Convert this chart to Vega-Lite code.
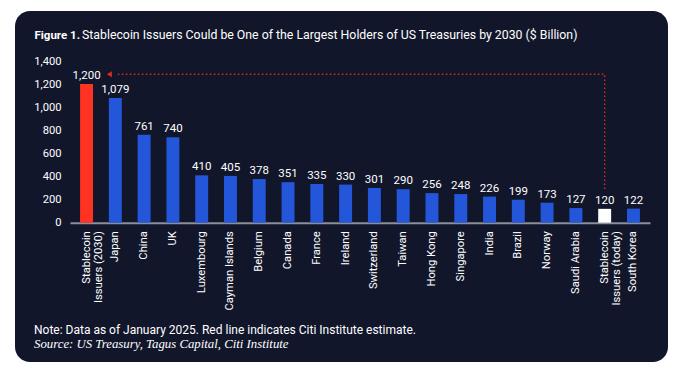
{
  "$schema": "https://vega.github.io/schema/vega-lite/v6.json",
  "width": 653,
  "height": 351,
  "autosize": {"type": "none"},
  "padding": {"left": 15, "top": 11, "right": 12, "bottom": 13},
  "background": "white",
  "config": {
    "view": {"fill": "#12162b", "cornerRadius": 15, "stroke": null},
    "font": "Roboto"
  },
  "title": {
    "text": "Note: Data as of January 2025. Red line indicates Citi Institute estimate.",
    "subtitle": "Source: US Treasury, Tagus Capital, Citi Institute",
    "orient": "bottom",
    "anchor": "start",
    "frame": "group",
    "offset": -37,
    "dx": 19,
    "font": "Roboto",
    "fontSize": 12,
    "fontWeight": "normal",
    "color": "white",
    "subtitleFont": "Liberation Serif",
    "subtitleFontStyle": "italic",
    "subtitleFontSize": 12.8,
    "subtitleColor": "white",
    "subtitlePadding": 1
  },
  "datasets": {
    "holders": [
      {"name": "Stablecoin Issuers (2030)", "value": 1200, "kind": "estimate"},
      {"name": "Japan", "value": 1079, "kind": "holder"},
      {"name": "China", "value": 761, "kind": "holder"},
      {"name": "UK", "value": 740, "kind": "holder"},
      {"name": "Luxembourg", "value": 410, "kind": "holder"},
      {"name": "Cayman Islands", "value": 405, "kind": "holder"},
      {"name": "Belgium", "value": 378, "kind": "holder"},
      {"name": "Canada", "value": 351, "kind": "holder"},
      {"name": "France", "value": 335, "kind": "holder"},
      {"name": "Ireland", "value": 330, "kind": "holder"},
      {"name": "Switzerland", "value": 301, "kind": "holder"},
      {"name": "Taiwan", "value": 290, "kind": "holder"},
      {"name": "Hong Kong", "value": 256, "kind": "holder"},
      {"name": "Singapore", "value": 248, "kind": "holder"},
      {"name": "India", "value": 226, "kind": "holder"},
      {"name": "Brazil", "value": 199, "kind": "holder"},
      {"name": "Norway", "value": 173, "kind": "holder"},
      {"name": "Saudi Arabia", "value": 127, "kind": "holder"},
      {"name": "Stablecoin Issuers (today)", "value": 120, "kind": "today"},
      {"name": "South Korea", "value": 122, "kind": "holder"}
    ],
    "arrow": [
      {"name": "Stablecoin Issuers (today)", "value": 292, "step": 1},
      {"name": "Stablecoin Issuers (today)", "value": 1285, "step": 2},
      {"name": "Japan", "value": 1285, "step": 3}
    ],
    "tip": [
      {"name": "Japan", "value": 1285}
    ]
  },
  "encoding": {
    "x": {
      "field": "name",
      "type": "nominal",
      "scale": {
        "domain": ["Stablecoin Issuers (2030)", "Japan", "China", "UK", "Luxembourg", "Cayman Islands", "Belgium", "Canada", "France", "Ireland", "Switzerland", "Taiwan", "Hong Kong", "Singapore", "India", "Brazil", "Norway", "Saudi Arabia", "Stablecoin Issuers (today)", "South Korea"],
        "range": [55, 635],
        "paddingInner": 0.55,
        "paddingOuter": 0.35
      },
      "axis": {
        "orient": "bottom",
        "offset": -139.3,
        "domainColor": "#8b8f9b",
        "domainWidth": 2,
        "ticks": false,
        "grid": false,
        "labelAngle": -90,
        "labelAlign": "right",
        "labelBaseline": "middle",
        "labelPadding": 8,
        "labelColor": "white",
        "labelFont": "Roboto",
        "labelFontSize": 11.2,
        "labelLineHeight": 12,
        "labelExpr": "indexof(datum.value, 'Stablecoin') == 0 ? ['Stablecoin', slice(datum.value, 11)] : datum.value",
        "title": "Figure 1.",
        "titleX": 19,
        "titleY": -184.7,
        "titleAngle": 0,
        "titleAlign": "left",
        "titleBaseline": "alphabetic",
        "titleAnchor": null,
        "titleColor": "white",
        "titleFont": "Roboto",
        "titleFontSize": 11.5,
        "titleFontWeight": "bold"
      }
    },
    "y": {
      "field": "value",
      "type": "quantitative",
      "scale": {"domain": [0, 1400], "range": [211.7, 50], "nice": false},
      "axis": {
        "orient": "left",
        "offset": -48,
        "values": [0, 200, 400, 600, 800, 1000, 1200, 1400],
        "labelExpr": "format(datum.value, ',.0f')",
        "domain": false,
        "ticks": false,
        "grid": false,
        "labelPadding": 2,
        "labelColor": "white",
        "labelFont": "Roboto",
        "labelFontSize": 11.2,
        "title": "Stablecoin Issuers Could be One of the Largest Holders of US Treasuries by 2030 ($ Billion)",
        "titleX": 18.5,
        "titleY": 27,
        "titleAngle": 0,
        "titleAlign": "left",
        "titleBaseline": "alphabetic",
        "titleColor": "white",
        "titleFont": "Roboto",
        "titleFontSize": 12.3,
        "titleFontWeight": "normal"
      }
    }
  },
  "layer": [
    {
      "data": {"name": "holders"},
      "mark": {"type": "bar"},
      "encoding": {
        "color": {
          "field": "kind",
          "type": "nominal",
          "scale": {"domain": ["estimate", "holder", "today"], "range": ["#ff3322", "#2456da", "#ffffff"]},
          "legend": null
        }
      }
    },
    {
      "data": {"name": "holders"},
      "mark": {"type": "text", "baseline": "bottom", "dy": -3, "color": "white", "font": "Roboto", "fontSize": 11.5},
      "encoding": {
        "text": {"field": "value", "type": "quantitative", "format": ",.0f"}
      }
    },
    {
      "data": {"name": "arrow"},
      "mark": {"type": "line", "color": "#d42a1f", "strokeWidth": 1.5, "strokeDash": [1.5, 2.5]},
      "encoding": {
        "order": {"field": "step", "type": "quantitative"}
      }
    },
    {
      "data": {"name": "tip"},
      "mark": {"type": "point", "shape": "triangle-left", "filled": true, "color": "#e02a1f", "size": 35, "opacity": 1, "xOffset": -6}
    }
  ]
}
